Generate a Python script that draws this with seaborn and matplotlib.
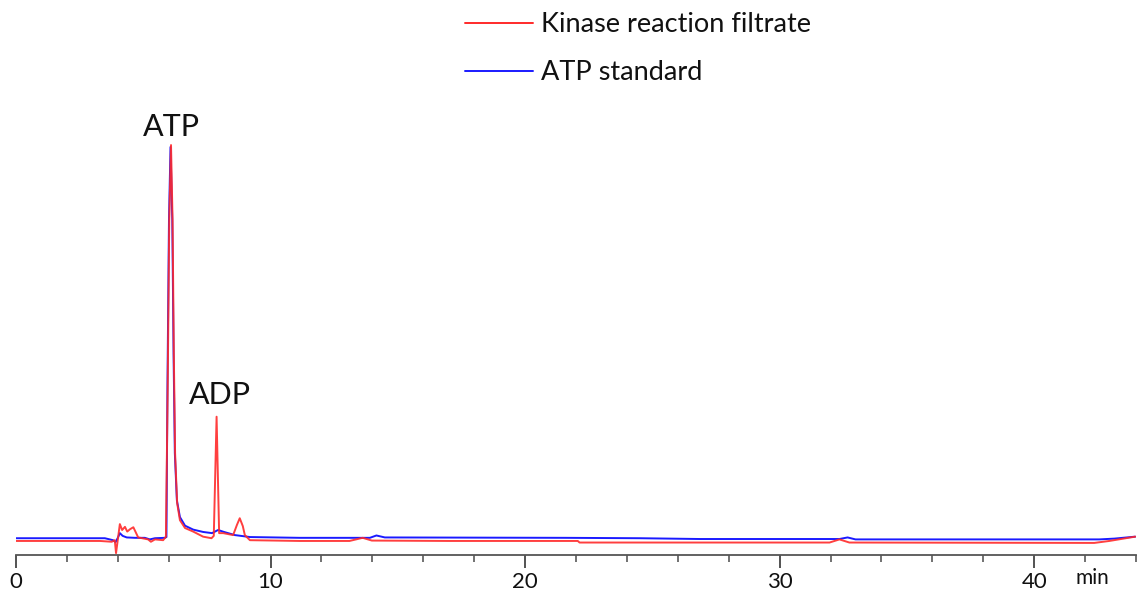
import numpy as np
import pandas as pd
import matplotlib
matplotlib.use("Agg")
import matplotlib.pyplot as plt
from matplotlib.ticker import MultipleLocator
from matplotlib.lines import Line2D
import seaborn as sns

# Retention time (min) and detector response (relative units)
red_time = [0.0, 3.3, 3.76, 3.88, 3.93, 4.08, 4.17, 4.28, 4.37, 4.48, 4.61, 4.80, 5.19, 5.30,
            5.46, 5.78, 5.89, 5.96, 6.02, 6.09, 6.15, 6.20, 6.25, 6.33, 6.44, 6.64, 6.96, 7.35,
            7.68, 7.77, 7.88, 7.98, 8.14, 8.53, 8.68, 8.79, 8.91, 8.99, 9.19, 11.15, 13.1, 13.62,
            13.98, 17.04, 22.07, 22.14, 31.96, 32.35, 32.74, 42.36, 42.95, 43.97]
red_signal = [-0.5, -0.5, -0.7, -0.3, -3.6, 3.8, 2.3, 3.1, 1.9, 2.5, 3.0, 0.4, -0.1, -0.7,
              -0.1, -0.3, 0.6, 38.9, 81.4, 100.5, 81.4, 47.4, 21.9, 9.2, 4.8, 2.8, 1.9, 0.6,
              0.2, 0.8, 31.2, 1.5, 1.5, 1.0, 3.6, 5.3, 3.3, 1.0, -0.3, -0.5, -0.5, 0.3,
              -0.4, -0.5, -0.5, -0.9, -0.9, -0.1, -0.9, -1.0, -0.5, 0.6]

blue_time = [0.0, 3.49, 3.81, 3.91, 4.0, 4.08, 4.19, 4.35, 4.67, 5.06, 5.26, 5.46, 5.85, 5.91,
             5.95, 6.01, 6.07, 6.14, 6.19, 6.24, 6.32, 6.44, 6.64, 6.96, 7.35, 7.70, 7.94, 8.17,
             8.60, 9.19, 11.15, 13.90, 14.16, 14.49, 21.59, 24.5, 26.86, 32.35, 32.67, 32.98,
             42.56, 43.15, 43.97]
blue_signal = [0.2, 0.2, -0.3, -0.8, 0.3, 1.5, 0.8, 0.4, 0.3, 0.3, -0.1, 0.2, 0.3, 0.5,
               38.9, 81.4, 100.0, 81.4, 47.4, 21.9, 9.9, 5.6, 3.4, 2.4, 1.8, 1.5, 2.3, 1.8,
               1.0, 0.5, 0.3, 0.3, 0.9, 0.4, 0.3, 0.2, 0.0, 0.0, 0.4, -0.1,
               -0.1, 0.1, 0.6]

series_names = ["Kinase reaction filtrate", "ATP standard"]
series_colors = ["#ff2a2a", "#1a1aff"]
x_ticks = [0, 10, 20, 30, 40]
peak_labels = ["ATP", "ADP"]
peak_pos = [(6.09, 101.5), (8.0, 33.2)]

df = pd.concat([
    pd.DataFrame({"time": red_time, "signal": red_signal, "series": series_names[0]}),
    pd.DataFrame({"time": blue_time, "signal": blue_signal, "series": series_names[1]}),
], ignore_index=True)

sns.set_theme(style="white")
plt.rcParams["font.family"] = ["Lato", "DejaVu Sans"]

fig = plt.figure(figsize=(11.46, 5.92), dpi=100)
ax = fig.add_axes([16 / 1146, 37 / 592, 1120 / 1146, 535 / 592])

palette = dict(zip(series_names, series_colors))
sns.lineplot(data=df[df.series == series_names[1]], x="time", y="signal", hue="series",
             palette=palette, ax=ax, linewidth=1.4, sort=False, legend=False)
sns.lineplot(data=df[df.series == series_names[0]], x="time", y="signal", hue="series",
             palette=palette, ax=ax, linewidth=1.4, sort=False, legend=False, alpha=0.9)

ax.set_xlim(0, 44)
ax.set_ylim(-4.08, 132.4)
ax.set_xlabel("")
ax.set_ylabel("")
ax.set_yticks([])
for s in ["left", "right", "top"]:
    ax.spines[s].set_visible(False)
ax.spines["bottom"].set_color("#555555")
ax.spines["bottom"].set_linewidth(1.3)
ax.set_xticks(x_ticks)
ax.set_xticklabels([str(t) for t in x_ticks])
ax.xaxis.set_minor_locator(MultipleLocator(2))
ax.tick_params(axis="x", which="major", direction="out", length=9, width=1.3,
               color="#444444", labelsize=16, pad=3, labelcolor="#111111", bottom=True)
ax.tick_params(axis="x", which="minor", direction="out", length=5, width=1.3,
               color="#666666", bottom=True)
ax.text(42.3, -4.08 - 13 / 3.92, "min", ha="center", va="top",
        fontsize=15, color="#111111")

for lab, (x, y) in zip(peak_labels, peak_pos):
    ax.text(x, y, lab, ha="center", va="bottom", fontsize=22, color="#111111")

handles = [Line2D([], [], color=c, lw=1.4) for c in series_colors]
leg = fig.legend(handles, series_names, loc="upper left",
                 bbox_to_anchor=(441 / 1146, 1 + 12 / 592), frameon=False,
                 fontsize=19.5, handlelength=2.5, handletextpad=0.3, labelspacing=0.85)
for t in leg.get_texts():
    t.set_color("#111111")

fig.savefig("out.png", dpi=100)
